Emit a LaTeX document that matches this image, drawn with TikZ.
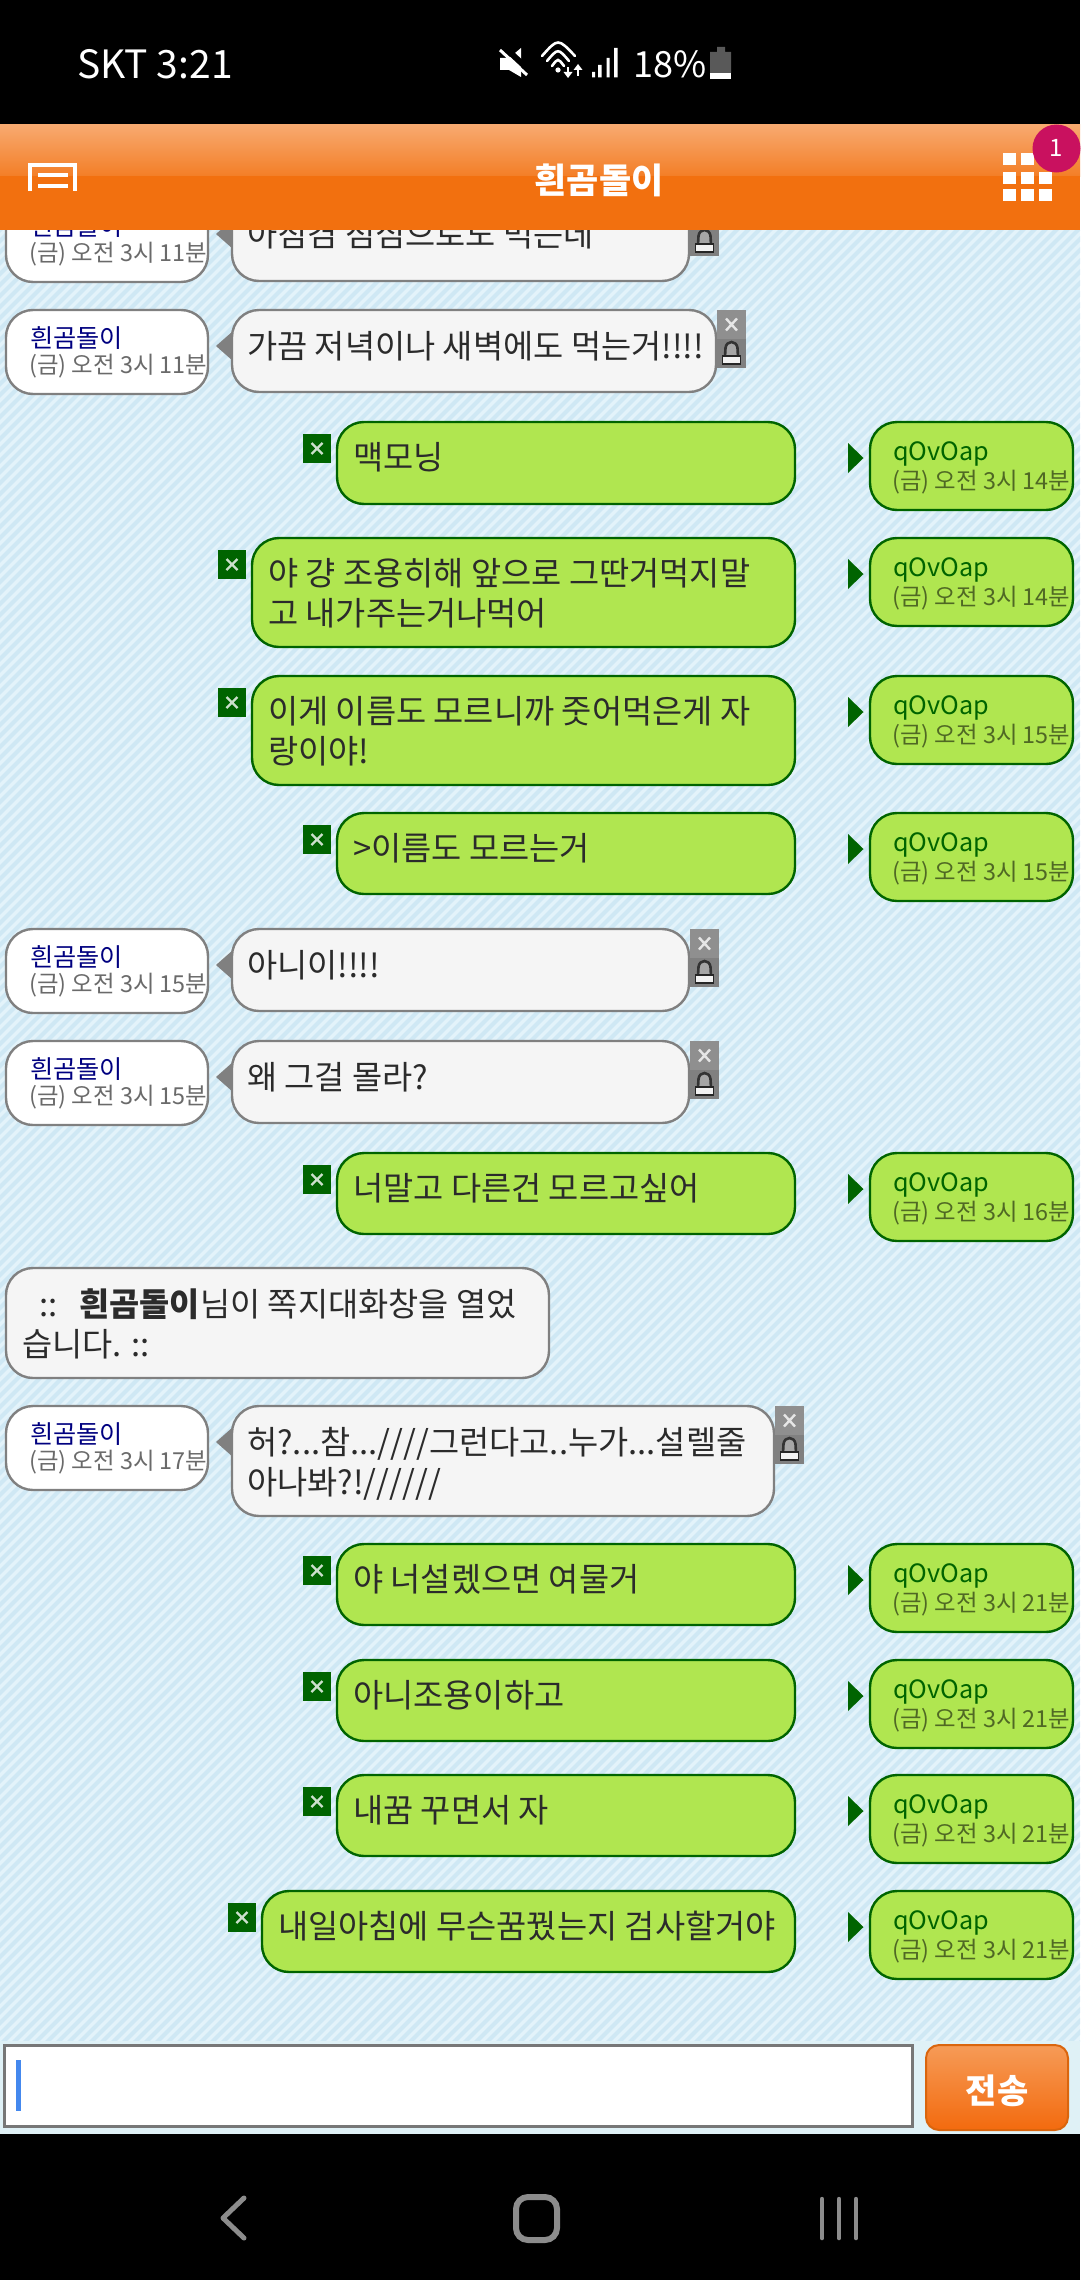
\documentclass[tikz,border=0pt]{standalone}
\usepackage{fontspec}
\setmainfont{Noto Sans CJK KR}
\usetikzlibrary{calc}
\definecolor{bgbase}{HTML}{E3F3FA}
\definecolor{bgline}{HTML}{CFE8F4}
\definecolor{panel}{HTML}{DFF1F6}
\definecolor{hdr}{HTML}{F2700F}
\definecolor{gbub}{HTML}{B0E650}
\definecolor{gdark}{HTML}{006400}
\definecolor{lbub}{HTML}{F5F5F5}
\definecolor{edge}{HTML}{808080}
\definecolor{navy2}{HTML}{000080}
\definecolor{txt}{HTML}{2B2B2B}
\definecolor{stamp}{HTML}{6A6A6A}
\definecolor{badgec}{HTML}{C9115F}
\definecolor{cursorc}{HTML}{4488EE}
\definecolor{navc}{HTML}{8C8C8C}
\definecolor{inbox}{HTML}{777777}
\tikzset{
  msgbox/.style={draw=edge,line width=2.4pt,fill=lbub,rounded corners=27pt},
  namebox/.style={draw=edge,line width=2.4pt,fill=white,rounded corners=27pt},
  gbox/.style={draw=gdark,line width=2.4pt,fill=gbub,rounded corners=27pt},
  msgtext/.style={anchor=north west,inner sep=0pt,align=left,text=txt,font=\fontsize{32.8}{40}\selectfont},
  nametext/.style={anchor=west,inner sep=0pt,font=\fontsize{25.2}{28}\selectfont},
  stamptext/.style={anchor=west,inner sep=0pt,text=stamp,font=\fontsize{23.4}{28}\selectfont},
  icon/.style={line width=2.6pt,draw=white,line cap=round},
}
% left row: id, top, message right edge, message height, message text
\newcommand{\leftrow}[5]{%
  \draw[namebox] (6,#2) rectangle (208,#2+84);
  \node[nametext,text=navy2] (n#1) at (30,#2+28) {흰곰돌이};
  \node[stamptext] (d#1) at (29,#2+56) {(금) 오전 3시 #5};
}
\newcommand{\leftmsg}[5]{%
  \fill[edge] (216,#2+36) -- (233,#2+21) -- (233,#2+51) -- cycle;
  \draw[msgbox] (232,#2) rectangle (#3,#2+#4);
  \node[msgtext] (m#1) at (247,#2+21) {#5};
  \fill[edge!88!white] (#3+1,#2) rectangle (#3+30,#2+29);
  \fill[edge] (#3+1,#2+29) rectangle (#3+30,#2+58);
  \draw[line width=2.4pt,draw=white!80!edge] (#3+10,#2+8.5) -- (#3+21,#2+20.5) (#3+10,#2+20.5) -- (#3+21,#2+8.5);
  \draw[line width=2.6pt,draw=black!80,fill=edge!70!white] (#3+9,#2+47) -- (#3+9.5,#2+38) .. controls (#3+10.5,#2+30) and (#3+20.5,#2+30) .. (#3+21.5,#2+38) -- (#3+22,#2+47);
  \draw[line width=1.8pt,draw=black!85,fill=white!90!edge] (#3+6.5,#2+46) rectangle (#3+24.5,#2+54);
}
% right row: id, top, left edge, height, text, minute
\newcommand{\rightrow}[6]{%
  \draw[gbox] (#3,#2) rectangle (795,#2+#4);
  \node[msgtext] (m#1) at (#3+16,#2+20) {#5};
  \fill[gdark] (#3-34,#2+12) rectangle (#3-6,#2+41);
  \draw[line width=2.4pt,draw=white!80!gdark] (#3-25.5,#2+21) -- (#3-14.5,#2+32) (#3-25.5,#2+32) -- (#3-14.5,#2+21);
  \fill[gdark] (848,#2+21) -- (863.5,#2+36) -- (848,#2+51) -- cycle;
  \draw[gbox] (870,#2) rectangle (1073,#2+88);
  \node[nametext,text=gdark] (n#1) at (893,#2+32) {qOvOap};
  \node[stamptext,text=black!55!gbub] (d#1) at (892,#2+60) {(금) 오전 3시 #6};
}
\begin{document}
\begin{tikzpicture}[x=1pt,y=-1pt]
\useasboundingbox (0,0) rectangle (1080,2280);
% background
\fill[bgbase] (0,0) rectangle (1080,2280);
\begin{scope}
  \clip (0,230) rectangle (1080,2041);
  \foreach \i in {-1815,-1804,...,1090} {
    \draw[bgline,line width=4pt] (\i,2045) -- (\i+1820,225);
  }
\end{scope}
\fill[panel] (0,2041) rectangle (1080,2134);
% rows
\leftrow{a}{198}{}{}{11분}
\leftmsg{a}{198}{689}{83}{아침겸 점심으로도 먹는데}
\leftrow{b}{310}{}{}{11분}
\leftmsg{b}{310}{716}{82}{가끔 저녁이나 새벽에도 먹는거!!!!}
\rightrow{c}{422}{337}{82}{맥모닝}{14분}
\rightrow{d}{538}{252}{109}{야 걍 조용히해 앞으로 그딴거먹지말\\고 내가주는거나먹어}{14분}
\rightrow{e}{676}{252}{109}{이게 이름도 모르니까 줏어먹은게 자\\랑이야!}{15분}
\rightrow{f}{813}{337}{81}{>이름도 모르는거}{15분}
\leftrow{g}{929}{}{}{15분}
\leftmsg{g}{929}{689}{82}{아니이!!!!}
\leftrow{h}{1041}{}{}{15분}
\leftmsg{h}{1041}{689}{82}{왜 그걸 몰라?}
\rightrow{i}{1153}{337}{81}{너말고 다른건 모르고싶어}{16분}
\draw[msgbox] (6,1268) rectangle (549,1378);
\node[msgtext] (sys) at (22,1289) {\hspace*{17pt}::\hspace*{22pt}\textbf{흰곰돌이}님이 쪽지대화창을 열었\\습니다. ::};
\leftrow{j}{1406}{}{}{17분}
\leftmsg{j}{1406}{774}{110}{허?...참...////그런다고..누가...설렐줄\\아나봐?!//////}
\rightrow{k}{1544}{337}{81}{야 너설렜으면 여물거}{21분}
\rightrow{l}{1660}{337}{81}{아니조용이하고}{21분}
\rightrow{m}{1775}{337}{81}{내꿈 꾸면서 자}{21분}
\rightrow{o}{1891}{262}{81}{내일아침에 무슨꿈꿨는지 검사할거야}{21분}
% status bar
\fill[black] (0,0) rectangle (1080,125);
\node[inner sep=0pt,anchor=base west,text=white,font=\fontsize{39}{42}\selectfont] (carrier) at (77,79) {SKT 3:21};
\fill[white] (500,58) -- (509,58) -- (521,48) -- (521,77) -- (509,70) -- (500,70) -- cycle;
\draw[black,line width=6pt] (503,46) -- (530,71);
\draw[white,line width=3pt] (500,50) -- (527,75);
\draw[icon] (542,56) .. controls (558,38) .. (575,56);
\draw[icon] (547,61) .. controls (558,48) .. (569,61);
\draw[icon] (552,66) .. controls (558,58) .. (564,66);
\fill[white] (558,70) circle (2.6pt);
\draw[white,line width=2pt] (568,67) -- (568,75) (578,66) -- (578,76);
\fill[white] (563.5,72) -- (572.5,72) -- (568,78) -- cycle;
\fill[white] (573.5,70) -- (582.5,70) -- (578,64) -- cycle;
\fill[white] (592,72) rectangle (595,77.5) (598,65) rectangle (601.5,77.5) (606.5,58) rectangle (609.5,77.5) (614,48) rectangle (617.5,77.5);
\node[inner sep=0pt,anchor=base west,text=white,font=\fontsize{36}{40}\selectfont] (batt) at (633,78) {18\%};
\fill[black!65] (717,47) rectangle (725,52) (710,52) rectangle (731,73);
\fill[white] (710,73) rectangle (731,79);
% header
\fill[top color=hdr!60!white,bottom color=hdr!90!white] (0,125) rectangle (1080,176);
\fill[hdr] (0,176) rectangle (1080,230);
\draw[white,line width=3.4pt] (30,191) -- (30,165) -- (75,165) -- (75,191);
\draw[white,line width=3.2pt] (38,175) -- (68,175) (38,186) -- (68,186);
\node[inner sep=0pt,text=white,font=\bfseries\fontsize{35}{38}\selectfont] (title) at (599,180) {흰곰돌이};
\foreach \cx in {1003,1021,1039} \foreach \cy in {153,172,189} {
  \fill[white] (\cx,\cy) rectangle (\cx+13,\cy+12);
}
\fill[badgec] (1056.5,148.5) circle (24pt);
\node[inner sep=0pt,text=white,font=\fontsize{24}{26}\selectfont] (badge) at (1056,148) {1};
% input
\draw[line width=3pt,draw=inbox,fill=white] (4.5,2045.5) rectangle (912.5,2126.5);
\fill[cursorc] (16,2060) rectangle (20.5,2111);
\draw[line width=2pt,draw=hdr!90!black,top color=hdr!70!white,bottom color=hdr!95!red,rounded corners=13pt] (926,2045) rectangle (1068,2130);
\node[inner sep=0pt,text=white,font=\bfseries\fontsize{34}{36}\selectfont] (send) at (997,2091) {전송};
% navigation bar
\fill[black] (0,2134) rectangle (1080,2280);
\draw[draw=navc,line width=5pt,line cap=round,line join=round] (244,2198) -- (223,2218) -- (244,2238);
\draw[draw=navc,line width=6pt,rounded corners=12pt] (516,2197) rectangle (557,2240);
\draw[draw=navc,line width=4.5pt,line cap=round] (822,2199) -- (822,2238) (839,2199) -- (839,2238) (856,2199) -- (856,2238);
\end{tikzpicture}
\end{document}
